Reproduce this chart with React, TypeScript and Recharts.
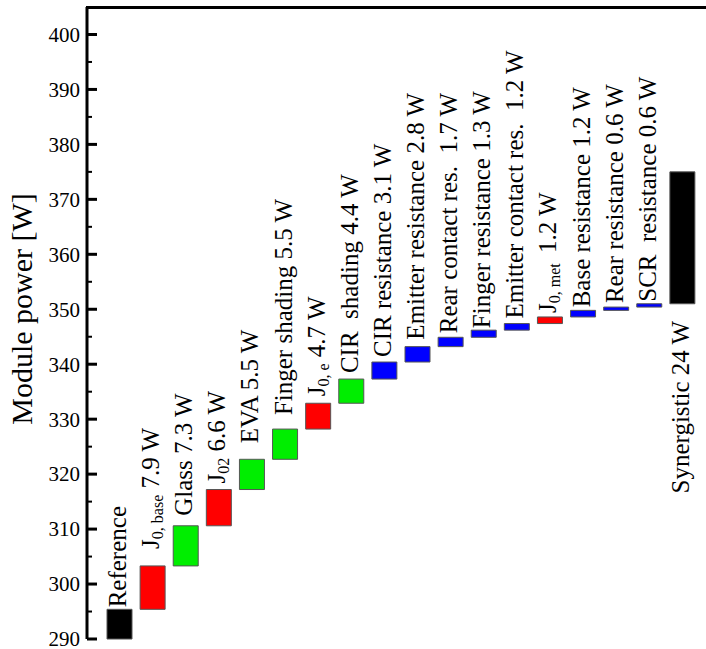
import React from 'react';
import { BarChart, Bar, XAxis, YAxis, LabelList, Cell } from 'recharts';

// loss analysis data (waterfall of module power)
const categories = [
  'Reference', 'J0, base', 'Glass', 'J02', 'EVA', 'Finger shading', 'J0, e', 'CIR shading',
  'CIR resistance', 'Emitter resistance', 'Rear contact res.', 'Finger resistance',
  'Emitter contact res.', 'J0, met', 'Base resistance', 'Rear resistance', 'SCR resistance', 'Synergistic',
];
const axisMin = 290;
const axisMax = 405;
const referencePower = 295.4;
const stepValues = [7.9, 7.3, 6.6, 5.5, 5.5, 4.7, 4.4, 3.1, 2.8, 1.7, 1.3, 1.2, 1.2, 1.2, 0.6, 0.6, 24];
const lossType = [
  'total', 'recombination', 'optical', 'recombination', 'optical', 'optical', 'recombination', 'optical',
  'resistive', 'resistive', 'resistive', 'resistive', 'resistive', 'recombination', 'resistive', 'resistive',
  'resistive', 'total',
];
// label text: main part, subscript, then the value is appended
const labelMain = [
  'Reference', 'J', 'Glass', 'J', 'EVA', 'Finger shading', 'J', 'CIR  shading', 'CIR resistance',
  'Emitter resistance', 'Rear contact res. ', 'Finger resistance', 'Emitter contact res. ', 'J',
  'Base resistance', 'Rear resistance', 'SCR  resistance', 'Synergistic',
];
const labelSub = ['', '0, base', '', '02', '', '', '0, e', '', '', '', '', '', '', '0, met ', '', '', '', ''];

const yTicks = [
  290, 295, 300, 305, 310, 315, 320, 325, 330, 335, 340, 345, 350, 355, 360, 365, 370, 375, 380, 385, 390, 395, 400,
];

const colors: Record<string, string> = {
  total: '#000000',
  recombination: '#ff0000',
  optical: '#00ee00',
  resistive: '#0000ff',
};
const font = "'Liberation Serif', 'Times New Roman', serif";
// pixel gap between bar end and its label
const labelGap = [2, 17, 10, 6, 16, 14, 7, 6, 5, 7, 4, 2, 5, 4, 3, 4, 2, 17];

let running = referencePower;
const chartData = categories.map((name, i) => {
  if (i === 0) return { name, range: [axisMin, referencePower] };
  const lo = running;
  running = lo + stepValues[i - 1];
  return { name, range: [lo, running] };
});

const renderLabel = (props: any) => {
  const { x, y, width, height, value } = props;
  const i = categories.indexOf(value);
  if (i < 0) return null;
  const top = Math.min(y, y + height);
  const bottom = Math.max(y, y + height);
  const below = i === categories.length - 1;
  const tx = x + width / 2 + 6.5;
  const ty = below ? bottom + labelGap[i] : top - labelGap[i];
  const tail = i === 0 ? '' : ` ${stepValues[i - 1]} W`;
  const sub = labelSub[i];
  return (
    <text
      x={tx}
      y={ty}
      transform={`rotate(-90 ${tx} ${ty})`}
      textAnchor={below ? 'end' : 'start'}
      style={{ fontFamily: font, fontSize: 25, fill: '#000', whiteSpace: 'pre' }}
    >
      <tspan>{labelMain[i]}</tspan>
      {sub ? (
        <>
          <tspan dy={4} style={{ fontSize: 16 }}>{sub}</tspan>
          <tspan dy={-4}>{tail}</tspan>
        </>
      ) : (
        <tspan>{tail}</tspan>
      )}
    </text>
  );
};

const LeftTick = (props: any) => {
  const { x, y, payload } = props;
  const major = payload.value % 10 === 0;
  return (
    <g>
      <line x1={x} x2={x + (major ? 10 : 5)} y1={y} y2={y} stroke="#000" strokeWidth={major ? 3 : 2} />
      {major && (
        <text x={x - 7} y={y} dy="0.35em" textAnchor="end" style={{ fontFamily: font, fontSize: 21, fill: '#000' }}>
          {payload.value}
        </text>
      )}
    </g>
  );
};

const renderTitle = () => (
  <text
    x={32}
    y={309}
    transform="rotate(-90 32 309)"
    textAnchor="middle"
    style={{ fontFamily: font, fontSize: 30, fill: '#000' }}
  >
    Module power [W]
  </text>
);

export default function App() {
  return (
    <div style={{ position: 'absolute', left: 0, top: 0, background: '#fff' }}>
      <BarChart width={706} height={649} data={chartData} margin={{ top: 7, right: -8, bottom: 10, left: 0 }}>
        <XAxis
          dataKey="name"
          padding={{ left: 16, right: 15 }}
          height={0}
          tick={false}
          tickLine={false}
          axisLine={{ stroke: '#000', strokeWidth: 3 }}
        />
        <YAxis
          type="number"
          domain={[axisMin, axisMax]}
          ticks={yTicks}
          interval={0}
          width={87}
          tickSize={0}
          tickMargin={0}
          tickLine={false}
          tick={<LeftTick />}
          axisLine={{ stroke: '#000', strokeWidth: 3 }}
          label={renderTitle}
        />
        <Bar dataKey="range" barSize={25} isAnimationActive={false}>
          {chartData.map((d, i) => (
            <Cell key={d.name} fill={colors[lossType[i]]} stroke="#555" strokeWidth={1} />
          ))}
          <LabelList dataKey="name" content={renderLabel} />
        </Bar>
      </BarChart>
      {/* frame line along the top of the plot */}
      <div style={{ position: 'absolute', left: 86, top: 6, width: 620, height: 3, background: '#000' }} />
    </div>
  );
}
